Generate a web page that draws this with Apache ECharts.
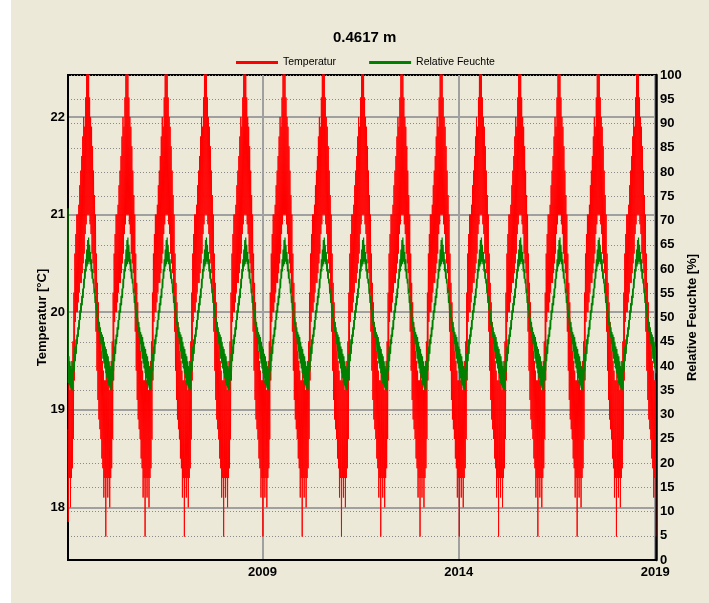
<!DOCTYPE html>
<html lang="de">
<head>
<meta charset="UTF-8">
<title>0.4617 m</title>
<script src="https://cdn.jsdelivr.net/npm/echarts@6.0.0/dist/echarts.min.js"></script>
<style>
  html, body { margin: 0; padding: 0; background: #fff; }
  #chart { width: 709px; height: 603px; background: linear-gradient(to right, #fff 0, #fff 11px, #ECE9D8 11px); }
</style>
</head>
<body>
<div id="chart"></div>
<script>
  // one yearly cycle, 40 samples per year (upper / lower edge of the daily swing)
  const years = [2004, 2005, 2006, 2007, 2008, 2009, 2010, 2011, 2012, 2013, 2014, 2015, 2016, 2017, 2018, 2019];
  const tempHi = [19.3, 19.4, 19.3, 19.4, 19.2, 19.3, 19.5, 19.7, 20.2, 20.6,
                  20.8, 21.0, 21.0, 21.1, 21.3, 21.45, 21.6, 21.8, 22.0, 21.9,
                  22.2, 22.5, 22.6, 22.5, 22.2, 22.0, 21.9, 21.7, 21.45, 21.2,
                  21.0, 20.6, 20.3, 20.1, 19.9, 19.8, 19.6, 19.5, 19.4, 19.3];
  const tempLo = [17.7, 18.3, 18.1, 18.3, 18.0, 18.3, 18.4, 18.7, 19.3, 19.9,
                  20.0, 20.0, 20.1, 20.2, 20.3, 20.3, 20.4, 20.5, 20.6, 20.8,
                  20.9, 21.0, 21.0, 21.0, 20.9, 20.8, 20.6, 20.5, 20.4, 20.2,
                  19.8, 19.4, 19.1, 18.9, 18.8, 18.7, 18.5, 18.4, 18.1, 18.3];
  const rhHi = [44, 43.5, 42.5, 42, 41, 40, 39.5, 41, 42.5, 44,
                45.5, 46.5, 48, 49.5, 51.5, 53, 54.5, 56, 58, 60,
                62, 64, 66, 66.5, 65, 63.5, 62, 60, 58, 56,
                54.5, 53, 51.5, 50, 49, 48, 47, 46.5, 46, 45];
  const rhLo = [38.5, 37.5, 36.5, 36, 35.5, 35, 35, 37, 39, 41,
                42.5, 44.5, 46, 47.5, 49.5, 51, 52.5, 54, 56, 58,
                59.5, 60.5, 61, 61.5, 61, 59.5, 58, 57, 55, 53,
                51.5, 50, 48.5, 47, 46, 44.5, 43, 41.5, 40.5, 39.5];
  // first values right at the start of the record
  const startTemp = [18.8, 17.85];
  const startRh = [72.5, 36.5];

  const tempTicks = [18, 19, 20, 21, 22];
  const yearTicks = [2009, 2014, 2019];

  const xStart = 2004.05, xEnd = 2019.02, dataEnd = 2019;
  const font = 'Liberation Sans, Arial, sans-serif';

  function zigzag(hi, lo, first) {
    const n = hi.length;
    const pts = [[xStart, first[0]], [xStart + 0.25 / n, first[1]]];
    years.forEach(y => {
      for (let j = 0; j < n; j++) {
        const t = y + j / n;
        if (t <= xStart + 0.25 / n || t > dataEnd) continue;
        pts.push([t, hi[j]]);
        pts.push([t + 0.5 / n, lo[j]]);
      }
    });
    return pts;
  }

  const chart = echarts.init(document.getElementById('chart'));
  const labelStyle = { color: '#000', fontFamily: font, fontWeight: 'bold', fontSize: 13 };

  chart.setOption({
    animation: false,
    backgroundColor: 'transparent',
    title: {
      text: '0.4617 m', left: 333, top: 30, padding: 0,
      textStyle: { fontFamily: font, fontWeight: 'bold', fontSize: 15, color: '#000' }
    },
    legend: {
      left: 236, top: 57, padding: 0, itemWidth: 42, itemHeight: 3, itemGap: 33, icon: 'rect',
      textStyle: { fontFamily: font, fontSize: 10.5, color: '#000' },
      data: ['Temperatur', 'Relative Feuchte']
    },
    grid: {
      left: 68, right: 53, top: 75, bottom: 43, outerBoundsMode: 'none',
      show: true, borderColor: '#000', borderWidth: 2
    },
    xAxis: {
      type: 'value', min: xStart, max: xEnd,
      axisLine: { show: true, lineStyle: { color: '#000', width: 2 } },
      axisTick: { show: false, customValues: yearTicks },
      axisLabel: { customValues: yearTicks, margin: 6, formatter: v => String(v), ...labelStyle },
      splitLine: { show: true, lineStyle: { color: '#a0a0a0', width: 2 } }
    },
    yAxis: [
      {
        type: 'value', position: 'left', min: 17.46, max: 22.43,
        name: 'Temperatur [°C]', nameLocation: 'middle', nameRotate: 90, nameGap: 19,
        nameMoveOverlap: false, nameTextStyle: labelStyle,
        axisLine: { show: true, onZero: false, lineStyle: { color: '#000', width: 2 } },
        axisTick: { show: false, customValues: tempTicks },
        axisLabel: { customValues: tempTicks, margin: 3, formatter: v => String(v), ...labelStyle },
        splitLine: { show: true, lineStyle: { color: '#a0a0a0', width: 2 } }
      },
      {
        type: 'value', position: 'right', min: 0, max: 100, interval: 5,
        name: 'Relative Feuchte [%]', nameLocation: 'middle', nameRotate: 90, nameGap: 30,
        nameMoveOverlap: false, nameTextStyle: labelStyle,
        axisLine: { show: true, onZero: false, lineStyle: { color: '#000', width: 2.5 } },
        axisTick: { show: false },
        axisLabel: { margin: 4, ...labelStyle },
        splitLine: { show: true, lineStyle: { color: '#8a8a8a', width: 1, type: [1, 2] } }
      }
    ],
    series: [
      {
        name: 'Temperatur', type: 'line', yAxisIndex: 0, symbol: 'none', z: 2,
        data: zigzag(tempHi, tempLo, startTemp),
        itemStyle: { color: '#ff0000' },
        lineStyle: { color: '#ff0000', width: 1 }
      },
      {
        name: 'Relative Feuchte', type: 'line', yAxisIndex: 1, symbol: 'none', z: 3,
        data: zigzag(rhHi, rhLo, startRh),
        itemStyle: { color: '#008000' },
        lineStyle: { color: '#008000', width: 1.2 }
      }
    ]
  });
</script>
</body>
</html>
